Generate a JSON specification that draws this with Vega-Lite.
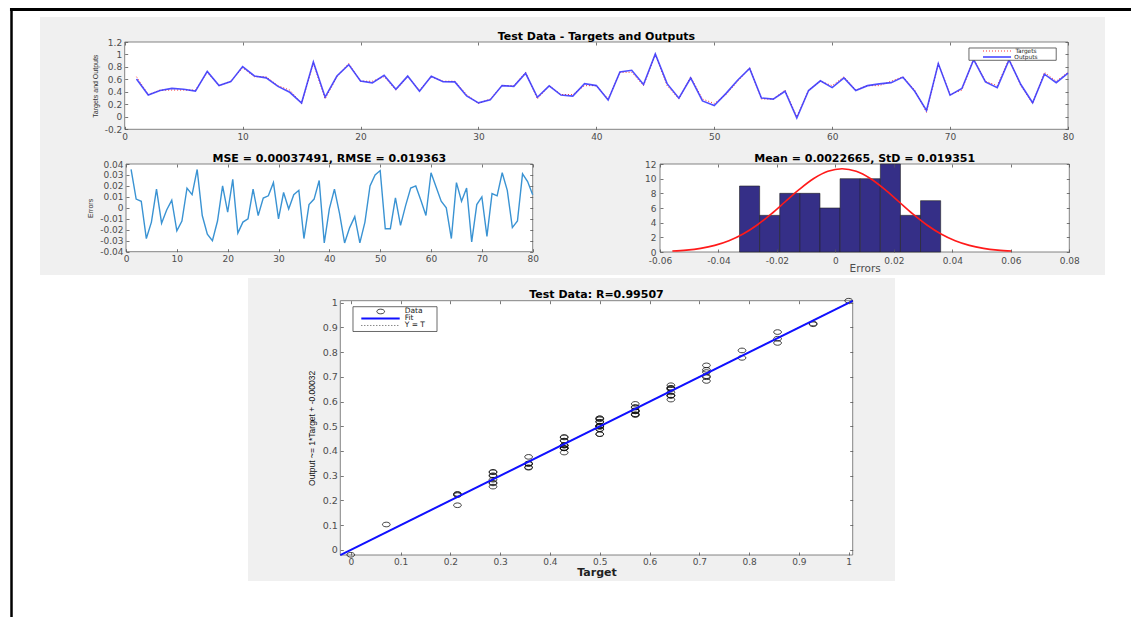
{
"$schema": "https://vega.github.io/schema/vega-lite/v6.json",
"width": 1131, "height": 617, "autosize": {"type": "none"}, "padding": 0, "background": "white",
"config": {"view": {"stroke": null},
 "axis": {"labelFont": "DejaVu Sans", "labelFontSize": 9, "labelColor": "#4d4d4d", "tickColor": "#555", "tickSize": -3, "tickWidth": 0.8, "labelPadding": 6, "titleFont": "Liberation Sans", "titleFontSize": 7, "titleFontWeight": "normal", "titleColor": "#333", "domain": false, "grid": false, "labelOverlap": false, "labelFlush": false, "labelBound": false},
 "text": {"font": "DejaVu Sans"}},
"datasets": {
 "ts": [
{"i":1,"t":0.6429,"o":0.6079,"e":0.035},{"i":2,"t":0.3571,"o":0.3491,"e":0.008},{"i":3,"t":0.4286,"o":0.4226,"e":0.006},{"i":4,"t":0.4286,"o":0.4566,"e":-0.028},{"i":5,"t":0.4286,"o":0.4416,"e":-0.013},{"i":6,"t":0.4286,"o":0.4116,"e":0.017},{"i":7,"t":0.7143,"o":0.7283,"e":-0.014},{"i":8,"t":0.5,"o":0.502,"e":-0.002},{"i":9,"t":0.5714,"o":0.5644,"e":0.007},{"i":10,"t":0.7857,"o":0.8067,"e":-0.021},
{"i":11,"t":0.6429,"o":0.6549,"e":-0.012},{"i":12,"t":0.6429,"o":0.6249,"e":0.018},{"i":13,"t":0.5,"o":0.488,"e":0.012},{"i":14,"t":0.4286,"o":0.3936,"e":0.035},{"i":15,"t":0.2143,"o":0.2213,"e":-0.007},{"i":16,"t":0.8571,"o":0.8811,"e":-0.024},{"i":17,"t":0.2857,"o":0.3157,"e":-0.03},{"i":18,"t":0.6429,"o":0.6549,"e":-0.012},{"i":19,"t":0.8571,"o":0.8371,"e":0.02},{"i":20,"t":0.5714,"o":0.5754,"e":-0.004},
{"i":21,"t":0.5714,"o":0.5454,"e":0.026},{"i":22,"t":0.6429,"o":0.6659,"e":-0.023},{"i":23,"t":0.4286,"o":0.4416,"e":-0.013},{"i":24,"t":0.6429,"o":0.6529,"e":-0.01},{"i":25,"t":0.4286,"o":0.4116,"e":0.017},{"i":26,"t":0.6429,"o":0.6499,"e":-0.007},{"i":27,"t":0.5714,"o":0.5624,"e":0.009},{"i":28,"t":0.5714,"o":0.5604,"e":0.011},{"i":29,"t":0.3571,"o":0.3341,"e":0.023},{"i":30,"t":0.2143,"o":0.2243,"e":-0.01},
{"i":31,"t":0.2857,"o":0.2717,"e":0.014},{"i":32,"t":0.5,"o":0.501,"e":-0.001},{"i":33,"t":0.5,"o":0.488,"e":0.012},{"i":34,"t":0.7143,"o":0.6983,"e":0.016},{"i":35,"t":0.2857,"o":0.3137,"e":-0.028},{"i":36,"t":0.5,"o":0.497,"e":0.003},{"i":37,"t":0.3571,"o":0.3491,"e":0.008},{"i":38,"t":0.3571,"o":0.3321,"e":0.025},{"i":39,"t":0.5,"o":0.532,"e":-0.032},{"i":40,"t":0.5,"o":0.501,"e":-0.001},
{"i":41,"t":0.2857,"o":0.2687,"e":0.017},{"i":42,"t":0.7143,"o":0.7193,"e":-0.005},{"i":43,"t":0.7143,"o":0.7463,"e":-0.032},{"i":44,"t":0.5,"o":0.518,"e":-0.018},{"i":45,"t":1,"o":1.008,"e":-0.008},{"i":46,"t":0.5,"o":0.532,"e":-0.032},{"i":47,"t":0.2857,"o":0.2987,"e":-0.013},{"i":48,"t":0.6429,"o":0.6229,"e":0.02},{"i":49,"t":0.2857,"o":0.2557,"e":0.03},{"i":50,"t":0.2143,"o":0.1803,"e":0.034},
{"i":51,"t":0.3571,"o":0.3761,"e":-0.019},{"i":52,"t":0.5714,"o":0.5904,"e":-0.019},{"i":53,"t":0.7857,"o":0.7767,"e":0.009},{"i":54,"t":0.2857,"o":0.3017,"e":-0.016},{"i":55,"t":0.2857,"o":0.2837,"e":0.002},{"i":56,"t":0.4286,"o":0.4106,"e":0.018},{"i":57,"t":0,"o":-0.02,"e":0.02},{"i":58,"t":0.4286,"o":0.4216,"e":0.007},{"i":59,"t":0.5714,"o":0.5784,"e":-0.007},{"i":60,"t":0.5,"o":0.468,"e":0.032},
{"i":61,"t":0.6429,"o":0.6239,"e":0.019},{"i":62,"t":0.4286,"o":0.4226,"e":0.006},{"i":63,"t":0.5,"o":0.5,"e":0},{"i":64,"t":0.5,"o":0.528,"e":-0.028},{"i":65,"t":0.5714,"o":0.5484,"e":0.023},{"i":66,"t":0.6429,"o":0.6369,"e":0.006},{"i":67,"t":0.4286,"o":0.4106,"e":0.018},{"i":68,"t":0.0714,"o":0.1024,"e":-0.031},{"i":69,"t":0.8571,"o":0.8541,"e":0.003},{"i":70,"t":0.3571,"o":0.3471,"e":0.01},
{"i":71,"t":0.4286,"o":0.4546,"e":-0.026},{"i":72,"t":0.9286,"o":0.9156,"e":0.013},{"i":73,"t":0.5714,"o":0.5604,"e":0.011},{"i":74,"t":0.5,"o":0.468,"e":0.032},{"i":75,"t":0.9286,"o":0.9126,"e":0.016},{"i":76,"t":0.5,"o":0.518,"e":-0.018},{"i":77,"t":0.2143,"o":0.2263,"e":-0.012},{"i":78,"t":0.7143,"o":0.6833,"e":0.031},{"i":79,"t":0.5714,"o":0.5474,"e":0.024},{"i":80,"t":0.7143,"o":0.7023,"e":0.012}
 ],
 "hist": [
{"lo":-0.0328,"hi":-0.02592,"n":9},{"lo":-0.02592,"hi":-0.01904,"n":5},{"lo":-0.01904,"hi":-0.01216,"n":8},{"lo":-0.01216,"hi":-0.00528,"n":8},{"lo":-0.00528,"hi":0.0016,"n":6},{"lo":0.0016,"hi":0.00848,"n":10},{"lo":0.00848,"hi":0.01536,"n":10},{"lo":0.01536,"hi":0.02224,"n":12},{"lo":0.02224,"hi":0.02912,"n":5},{"lo":0.02912,"hi":0.036,"n":7}
 ],
 "gauss": [
{"x":-0.05578,"c":0.126},{"x":-0.05095,"c":0.259},{"x":-0.04611,"c":0.499},{"x":-0.04127,"c":0.903},{"x":-0.03643,"c":1.536},{"x":-0.0316,"c":2.455},{"x":-0.02676,"c":3.685},{"x":-0.02192,"c":5.196},{"x":-0.01708,"c":6.884},{"x":-0.01224,"c":8.567},{"x":-0.00741,"c":10.016},{"x":-0.00257,"c":11.001},{"x":0.00227,"c":11.35},{"x":0.00711,"c":11.001},{"x":0.01194,"c":10.016},{"x":0.01678,"c":8.567},{"x":0.02162,"c":6.884},{"x":0.02646,"c":5.196},{"x":0.0313,"c":3.685},{"x":0.03613,"c":2.455},{"x":0.04097,"c":1.536},{"x":0.04581,"c":0.903},{"x":0.05065,"c":0.499},{"x":0.05549,"c":0.259},{"x":0.06032,"c":0.126}
 ],
 "fit": [{"t":-0.021,"f":-0.0213},{"t":1.008,"f":1.0077}],
 "one": [{}]
},
"layer": [
 {"resolve": {"axis": {"x": "independent", "y": "independent"}},
  "layer": [
  {"data": {"name": "one"}, "mark": {"type": "rect", "fill": "#f0f0f0"},
   "encoding": {"x": {"datum": -7.18, "type": "quantitative", "scale": {"domain": [0,80], "range": [124.7,1068], "nice": false, "zero": false}, "axis": null}, "x2": {"datum": 83.14},
    "y": {"datum": 1.601, "type": "quantitative", "scale": {"domain": [-0.2,1.2], "range": [129.3,42], "nice": false, "zero": false}, "axis": null}, "y2": {"datum": -2.537}}},
  {"data": {"name": "one"}, "mark": {"type": "rect", "fill": "#f0f0f0"},
   "encoding": {"x": {"datum": 10.457, "type": "quantitative", "scale": {"domain": [0,80], "range": [124.7,1068], "nice": false, "zero": false}, "axis": null}, "x2": {"datum": 65.33},
    "y": {"datum": -2.585, "type": "quantitative", "scale": {"domain": [-0.2,1.2], "range": [129.3,42], "nice": false, "zero": false}, "axis": null}, "y2": {"datum": -7.444}}},
  {"data": {"name": "one"}, "mark": {"type": "rule", "color": "black", "strokeWidth": 3},
   "encoding": {"x": {"datum": -9.73, "type": "quantitative", "scale": {"domain": [0,80], "range": [124.7,1068], "nice": false, "zero": false}, "axis": null}, "x2": {"datum": 86},
    "y": {"datum": 1.72, "type": "quantitative", "scale": {"domain": [-0.2,1.2], "range": [129.3,42], "nice": false, "zero": false}, "axis": null}}},
  {"data": {"name": "one"}, "mark": {"type": "rule", "color": "black", "strokeWidth": 2.5},
   "encoding": {"x": {"datum": -9.6, "type": "quantitative", "scale": {"domain": [0,80], "range": [124.7,1068], "nice": false, "zero": false}, "axis": null},
    "y": {"datum": 1.745, "type": "quantitative", "scale": {"domain": [-0.2,1.2], "range": [129.3,42], "nice": false, "zero": false}, "axis": null}, "y2": {"datum": -8.2}}},
  {"data": {"name": "one"}, "mark": {"type": "rect", "fill": "white", "stroke": "#666", "strokeWidth": 0.8},
   "encoding": {"x": {"datum": 0, "type": "quantitative", "scale": {"domain": [0,80], "range": [124.7,1068], "nice": false, "zero": false},
      "axis": {"values": [0,10,20,30,40,50,60,70,80], "orient": "bottom", "offset": -487.7, "title": null, "zindex": 1, "labelExpr": "'' + datum.value"}}, "x2": {"datum": 80},
    "y": {"datum": -0.2, "type": "quantitative", "scale": {"domain": [-0.2,1.2], "range": [129.3,42], "nice": false, "zero": false},
      "axis": {"values": [-0.2,0,0.2,0.4,0.6,0.8,1,1.2], "orient": "left", "offset": -124.7, "title": "Targets and Outputs", "titlePadding": 6, "zindex": 1, "labelExpr": "'' + datum.value"}}, "y2": {"datum": 1.2}}},
  {"data": {"name": "ts"}, "mark": {"type": "line", "color": "#ff3030", "strokeWidth": 1, "strokeDash": [1,2]},
   "encoding": {"x": {"field": "i", "type": "quantitative", "scale": {"domain": [0,80], "range": [124.7,1068], "nice": false, "zero": false}, "axis": null},
    "y": {"field": "t", "type": "quantitative", "scale": {"domain": [-0.2,1.2], "range": [129.3,42], "nice": false, "zero": false}, "axis": null}}},
  {"data": {"name": "ts"}, "mark": {"type": "line", "color": "#2f2fff", "strokeWidth": 1.6, "opacity": 0.85},
   "encoding": {"x": {"field": "i", "type": "quantitative", "scale": {"domain": [0,80], "range": [124.7,1068], "nice": false, "zero": false}, "axis": null},
    "y": {"field": "o", "type": "quantitative", "scale": {"domain": [-0.2,1.2], "range": [129.3,42], "nice": false, "zero": false}, "axis": null}}},
  {"data": {"name": "one"}, "mark": {"type": "text", "text": "Test Data - Targets and Outputs", "fontWeight": "bold", "fontSize": 11, "baseline": "bottom", "align": "center", "dy": 0, "color": "black"},
   "encoding": {"x": {"datum": 40, "type": "quantitative", "scale": {"domain": [0,80], "range": [124.7,1068], "nice": false, "zero": false},
      "axis": {"values": [0,10,20,30,40,50,60,70,80], "orient": "top", "offset": -42, "labels": false, "title": null, "zindex": 1}},
    "y": {"datum": 1.2, "type": "quantitative", "scale": {"domain": [-0.2,1.2], "range": [129.3,42], "nice": false, "zero": false},
      "axis": {"values": [-0.2,0,0.2,0.4,0.6,0.8,1,1.2], "orient": "right", "offset": -63, "labels": false, "title": null, "zindex": 1}}}},
  {"data": {"name": "one"}, "mark": {"type": "rect", "fill": "white", "stroke": "#444", "strokeWidth": 0.8},
   "encoding": {"x": {"datum": 71.6, "type": "quantitative", "scale": {"domain": [0,80], "range": [124.7,1068], "nice": false, "zero": false}, "axis": null}, "x2": {"datum": 79.0},
    "y": {"datum": 1.1038, "type": "quantitative", "scale": {"domain": [-0.2,1.2], "range": [129.3,42], "nice": false, "zero": false}, "axis": null}, "y2": {"datum": 0.9065}}},
  {"data": {"name": "one"}, "mark": {"type": "rule", "color": "#ff3030", "strokeWidth": 1, "strokeDash": [1,2]},
   "encoding": {"x": {"datum": 72.79, "type": "quantitative", "scale": {"domain": [0,80], "range": [124.7,1068], "nice": false, "zero": false}, "axis": null}, "x2": {"datum": 75.17},
    "y": {"datum": 1.0557, "type": "quantitative", "scale": {"domain": [-0.2,1.2], "range": [129.3,42], "nice": false, "zero": false}, "axis": null}}},
  {"data": {"name": "one"}, "mark": {"type": "rule", "color": "#2f2fff", "strokeWidth": 1.4},
   "encoding": {"x": {"datum": 72.79, "type": "quantitative", "scale": {"domain": [0,80], "range": [124.7,1068], "nice": false, "zero": false}, "axis": null}, "x2": {"datum": 75.17},
    "y": {"datum": 0.9594, "type": "quantitative", "scale": {"domain": [-0.2,1.2], "range": [129.3,42], "nice": false, "zero": false}, "axis": null}}},
  {"data": {"name": "one"}, "mark": {"type": "text", "text": "Targets", "fontSize": 5.8, "baseline": "middle", "align": "left", "color": "#222"},
   "encoding": {"x": {"datum": 75.55, "type": "quantitative", "scale": {"domain": [0,80], "range": [124.7,1068], "nice": false, "zero": false}, "axis": null},
    "y": {"datum": 1.0557, "type": "quantitative", "scale": {"domain": [-0.2,1.2], "range": [129.3,42], "nice": false, "zero": false}, "axis": null}}},
  {"data": {"name": "one"}, "mark": {"type": "text", "text": "Outputs", "fontSize": 5.8, "baseline": "middle", "align": "left", "color": "#222"},
   "encoding": {"x": {"datum": 75.45, "type": "quantitative", "scale": {"domain": [0,80], "range": [124.7,1068], "nice": false, "zero": false}, "axis": null},
    "y": {"datum": 0.9594, "type": "quantitative", "scale": {"domain": [-0.2,1.2], "range": [129.3,42], "nice": false, "zero": false}, "axis": null}}}
 ]},
 {"resolve": {"axis": {"x": "independent", "y": "independent"}},
  "layer": [
  {"data": {"name": "one"}, "mark": {"type": "rect", "fill": "white", "stroke": "#666", "strokeWidth": 0.8},
   "encoding": {"x": {"datum": 0, "type": "quantitative", "scale": {"domain": [0,80], "range": [126,532.7], "nice": false, "zero": false},
      "axis": {"values": [0,10,20,30,40,50,60,70,80], "orient": "bottom", "offset": -365.3, "title": null, "zindex": 1, "labelExpr": "'' + datum.value"}}, "x2": {"datum": 80},
    "y": {"datum": -0.04, "type": "quantitative", "scale": {"domain": [-0.04,0.04], "range": [251.7,164], "nice": false, "zero": false},
      "axis": {"values": [-0.04,-0.03,-0.02,-0.01,0,0.01,0.02,0.03,0.04], "orient": "left", "offset": -126, "title": "Errors", "titlePadding": 6, "zindex": 1, "labelExpr": "'' + datum.value"}}, "y2": {"datum": 0.04}}},
  {"data": {"name": "ts"}, "mark": {"type": "line", "color": "#3a93d3", "strokeWidth": 1.4},
   "encoding": {"x": {"field": "i", "type": "quantitative", "scale": {"domain": [0,80], "range": [126,532.7], "nice": false, "zero": false}, "axis": null},
    "y": {"field": "e", "type": "quantitative", "scale": {"domain": [-0.04,0.04], "range": [251.7,164], "nice": false, "zero": false}, "axis": null}}},
  {"data": {"name": "one"}, "mark": {"type": "text", "text": "MSE = 0.00037491, RMSE = 0.019363", "fontWeight": "bold", "fontSize": 11, "baseline": "bottom", "align": "center", "dy": -0.5, "color": "black"},
   "encoding": {"x": {"datum": 40, "type": "quantitative", "scale": {"domain": [0,80], "range": [126,532.7], "nice": false, "zero": false},
      "axis": {"values": [0,10,20,30,40,50,60,70,80], "orient": "top", "offset": -164, "labels": false, "title": null, "zindex": 1}},
    "y": {"datum": 0.04, "type": "quantitative", "scale": {"domain": [-0.04,0.04], "range": [251.7,164], "nice": false, "zero": false},
      "axis": {"values": [-0.04,-0.03,-0.02,-0.01,0,0.01,0.02,0.03,0.04], "orient": "right", "offset": -598.3, "labels": false, "title": null, "zindex": 1}}}}
 ]},
 {"resolve": {"axis": {"x": "independent", "y": "independent"}},
  "layer": [
  {"data": {"name": "one"}, "mark": {"type": "rect", "fill": "white", "stroke": "#666", "strokeWidth": 0.8},
   "encoding": {"x": {"datum": -0.06, "type": "quantitative", "scale": {"domain": [-0.06,0.08], "range": [660,1069.3], "nice": false, "zero": false},
      "axis": {"values": [-0.06,-0.04,-0.02,0,0.02,0.04,0.06,0.08], "orient": "bottom", "offset": -365, "title": "Errors", "titleFont": "DejaVu Sans", "titleFontSize": 10.5, "titleColor": "#4d4d4d", "titlePadding": -2, "labelPadding": 7, "zindex": 1, "labelExpr": "'' + datum.value"}}, "x2": {"datum": 0.08},
    "y": {"datum": 0, "type": "quantitative", "scale": {"domain": [0,12], "range": [252,164], "nice": false, "zero": false},
      "axis": {"values": [0,2,4,6,8,10,12], "orient": "left", "offset": -660, "title": null, "labelPadding": 7, "zindex": 1, "labelExpr": "'' + datum.value",
        "encode": {"labels": {"update": {"dy": {"signal": "datum.value === 0 ? -3 : 0"}}}}}}, "y2": {"datum": 12}}},
  {"data": {"name": "hist"}, "mark": {"type": "rect", "fill": "#352f87", "stroke": "#222", "strokeWidth": 0.6},
   "encoding": {"x": {"field": "lo", "type": "quantitative", "scale": {"domain": [-0.06,0.08], "range": [660,1069.3], "nice": false, "zero": false}, "axis": null}, "x2": {"field": "hi"},
    "y": {"field": "n", "type": "quantitative", "scale": {"domain": [0,12], "range": [252,164], "nice": false, "zero": false}, "axis": null}, "y2": {"datum": 0}}},
  {"data": {"name": "gauss"}, "mark": {"type": "line", "color": "#ff1a1a", "strokeWidth": 1.6, "interpolate": "monotone"},
   "encoding": {"x": {"field": "x", "type": "quantitative", "scale": {"domain": [-0.06,0.08], "range": [660,1069.3], "nice": false, "zero": false}, "axis": null},
    "y": {"field": "c", "type": "quantitative", "scale": {"domain": [0,12], "range": [252,164], "nice": false, "zero": false}, "axis": null}}},
  {"data": {"name": "one"}, "mark": {"type": "text", "text": "Mean = 0.0022665, StD = 0.019351", "fontWeight": "bold", "fontSize": 11, "baseline": "bottom", "align": "center", "dy": -0.5, "color": "black"},
   "encoding": {"x": {"datum": 0.01, "type": "quantitative", "scale": {"domain": [-0.06,0.08], "range": [660,1069.3], "nice": false, "zero": false},
      "axis": {"values": [-0.06,-0.04,-0.02,0,0.02,0.04,0.06,0.08], "orient": "top", "offset": -164, "labels": false, "title": null, "zindex": 1}},
    "y": {"datum": 12, "type": "quantitative", "scale": {"domain": [0,12], "range": [252,164], "nice": false, "zero": false},
      "axis": {"values": [0,2,4,6,8,10,12], "orient": "right", "offset": -61.7, "labels": false, "title": null, "zindex": 1}}}}
 ]},
 {"resolve": {"axis": {"x": "independent", "y": "independent"}},
  "layer": [
  {"data": {"name": "one"}, "mark": {"type": "rect", "fill": "white", "stroke": "#666", "strokeWidth": 0.8},
   "encoding": {"x": {"datum": -0.021, "type": "quantitative", "scale": {"domain": [-0.021,1.008], "range": [340.3,852.7], "nice": false, "zero": false},
      "axis": {"values": [0,0.1,0.2,0.3,0.4,0.5,0.6,0.7,0.8,0.9,1], "orient": "bottom", "offset": -62, "title": "Target", "titleFont": "DejaVu Sans", "titleFontWeight": "bold", "titleFontSize": 11, "titleColor": "#222", "titlePadding": 0, "labelPadding": 5, "labelFontSize": 9, "zindex": 1, "labelExpr": "'' + datum.value"}}, "x2": {"datum": 1.008},
    "y": {"datum": -0.021, "type": "quantitative", "scale": {"domain": [-0.021,1.008], "range": [555,300.7], "nice": false, "zero": false},
      "axis": {"values": [0,0.1,0.2,0.3,0.4,0.5,0.6,0.7,0.8,0.9,1], "orient": "left", "offset": -340.3, "title": "Output ~= 1*Target + -0.00032", "titleFontSize": 8.5, "titleColor": "#111", "titlePadding": 6, "labelFontSize": 9.5, "zindex": 1, "labelExpr": "'' + datum.value"}}, "y2": {"datum": 1.008}}},
  {"data": {"name": "ts"}, "mark": {"type": "point", "shape": "M-1,0A1,0.6,0,1,0,1,0A1,0.6,0,1,0,-1,0Z", "filled": false, "size": 60, "color": "#111", "strokeWidth": 0.8, "opacity": 1},
   "encoding": {"x": {"field": "t", "type": "quantitative", "scale": {"domain": [-0.021,1.008], "range": [340.3,852.7], "nice": false, "zero": false}, "axis": null},
    "y": {"field": "o", "type": "quantitative", "scale": {"domain": [-0.021,1.008], "range": [555,300.7], "nice": false, "zero": false}, "axis": null}}},
  {"data": {"name": "fit"}, "mark": {"type": "line", "color": "#555", "strokeWidth": 1, "strokeDash": [1,2]},
   "encoding": {"x": {"field": "t", "type": "quantitative", "scale": {"domain": [-0.021,1.008], "range": [340.3,852.7], "nice": false, "zero": false}, "axis": null},
    "y": {"field": "t", "type": "quantitative", "scale": {"domain": [-0.021,1.008], "range": [555,300.7], "nice": false, "zero": false}, "axis": null}}},
  {"data": {"name": "fit"}, "mark": {"type": "line", "color": "#1010ff", "strokeWidth": 2},
   "encoding": {"x": {"field": "t", "type": "quantitative", "scale": {"domain": [-0.021,1.008], "range": [340.3,852.7], "nice": false, "zero": false}, "axis": null},
    "y": {"field": "f", "type": "quantitative", "scale": {"domain": [-0.021,1.008], "range": [555,300.7], "nice": false, "zero": false}, "axis": null}}},
  {"data": {"name": "one"}, "mark": {"type": "text", "text": "Test Data: R=0.99507", "fontWeight": "bold", "fontSize": 11, "baseline": "bottom", "align": "center", "dy": -0.5, "color": "black"},
   "encoding": {"x": {"datum": 0.4935, "type": "quantitative", "scale": {"domain": [-0.021,1.008], "range": [340.3,852.7], "nice": false, "zero": false},
      "axis": {"values": [0,0.1,0.2,0.3,0.4,0.5,0.6,0.7,0.8,0.9,1], "orient": "top", "offset": -300.7, "labels": false, "title": null, "zindex": 1}},
    "y": {"datum": 1.008, "type": "quantitative", "scale": {"domain": [-0.021,1.008], "range": [555,300.7], "nice": false, "zero": false},
      "axis": {"values": [0,0.1,0.2,0.3,0.4,0.5,0.6,0.7,0.8,0.9,1], "orient": "right", "offset": -278.3, "labels": false, "title": null, "zindex": 1}}}},
  {"data": {"name": "one"}, "mark": {"type": "rect", "fill": "white", "stroke": "#444", "strokeWidth": 0.8},
   "encoding": {"x": {"datum": 0.0045, "type": "quantitative", "scale": {"domain": [-0.021,1.008], "range": [340.3,852.7], "nice": false, "zero": false}, "axis": null}, "x2": {"datum": 0.1732},
    "y": {"datum": 0.9837, "type": "quantitative", "scale": {"domain": [-0.021,1.008], "range": [555,300.7], "nice": false, "zero": false}, "axis": null}, "y2": {"datum": 0.8834}}},
  {"data": {"name": "one"}, "mark": {"type": "point", "shape": "M-1,0A1,0.6,0,1,0,1,0A1,0.6,0,1,0,-1,0Z", "filled": false, "size": 60, "color": "#111", "strokeWidth": 0.8, "opacity": 1},
   "encoding": {"x": {"datum": 0.0601, "type": "quantitative", "scale": {"domain": [-0.021,1.008], "range": [340.3,852.7], "nice": false, "zero": false}, "axis": null},
    "y": {"datum": 0.9643, "type": "quantitative", "scale": {"domain": [-0.021,1.008], "range": [555,300.7], "nice": false, "zero": false}, "axis": null}}},
  {"data": {"name": "one"}, "mark": {"type": "rule", "color": "#1010ff", "strokeWidth": 2},
   "encoding": {"x": {"datum": 0.0212, "type": "quantitative", "scale": {"domain": [-0.021,1.008], "range": [340.3,852.7], "nice": false, "zero": false}, "axis": null}, "x2": {"datum": 0.0983},
    "y": {"datum": 0.936, "type": "quantitative", "scale": {"domain": [-0.021,1.008], "range": [555,300.7], "nice": false, "zero": false}, "axis": null}}},
  {"data": {"name": "one"}, "mark": {"type": "rule", "color": "#555", "strokeWidth": 1, "strokeDash": [1,2]},
   "encoding": {"x": {"datum": 0.0212, "type": "quantitative", "scale": {"domain": [-0.021,1.008], "range": [340.3,852.7], "nice": false, "zero": false}, "axis": null}, "x2": {"datum": 0.0983},
    "y": {"datum": 0.9077, "type": "quantitative", "scale": {"domain": [-0.021,1.008], "range": [555,300.7], "nice": false, "zero": false}, "axis": null}}},
  {"data": {"name": "one"}, "mark": {"type": "text", "text": "Data", "fontSize": 7.5, "baseline": "middle", "align": "left", "color": "#222"},
   "encoding": {"x": {"datum": 0.1083, "type": "quantitative", "scale": {"domain": [-0.021,1.008], "range": [340.3,852.7], "nice": false, "zero": false}, "axis": null},
    "y": {"datum": 0.9643, "type": "quantitative", "scale": {"domain": [-0.021,1.008], "range": [555,300.7], "nice": false, "zero": false}, "axis": null}}},
  {"data": {"name": "one"}, "mark": {"type": "text", "text": "Fit", "fontSize": 7.5, "baseline": "middle", "align": "left", "color": "#222"},
   "encoding": {"x": {"datum": 0.1083, "type": "quantitative", "scale": {"domain": [-0.021,1.008], "range": [340.3,852.7], "nice": false, "zero": false}, "axis": null},
    "y": {"datum": 0.936, "type": "quantitative", "scale": {"domain": [-0.021,1.008], "range": [555,300.7], "nice": false, "zero": false}, "axis": null}}},
  {"data": {"name": "one"}, "mark": {"type": "text", "text": "Y = T", "fontSize": 7.5, "baseline": "middle", "align": "left", "color": "#222"},
   "encoding": {"x": {"datum": 0.1083, "type": "quantitative", "scale": {"domain": [-0.021,1.008], "range": [340.3,852.7], "nice": false, "zero": false}, "axis": null},
    "y": {"datum": 0.9077, "type": "quantitative", "scale": {"domain": [-0.021,1.008], "range": [555,300.7], "nice": false, "zero": false}, "axis": null}}}
 ]}
],
"resolve": {"scale": {"x": "independent", "y": "independent"}, "axis": {"x": "independent", "y": "independent"}}
}
